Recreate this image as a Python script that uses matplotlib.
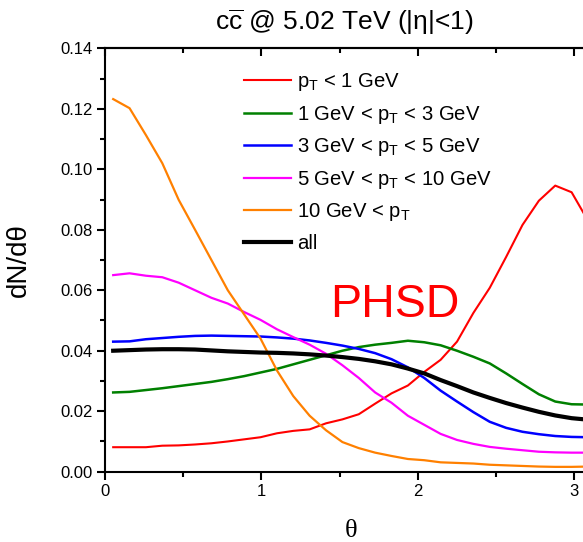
import numpy as np
import matplotlib.pyplot as plt
from matplotlib.ticker import MultipleLocator, FormatStrFormatter

plt.rcParams['font.family'] = ['Liberation Sans', 'DejaVu Sans']
plt.rcParams['mathtext.fontset'] = 'custom'
plt.rcParams['mathtext.rm'] = 'Liberation Sans'
plt.rcParams['mathtext.it'] = 'Liberation Sans:italic'
plt.rcParams['mathtext.bf'] = 'Liberation Sans:bold'

# 30 bins in theta, values read at bin centres
n_bins = 30
theta = (np.arange(n_bins) + 0.5) * np.pi / n_bins

pt_lt1 = [0.0081, 0.0081, 0.0081, 0.0086, 0.0087, 0.0090, 0.0094, 0.0100, 0.0107, 0.0114,
          0.0127, 0.0135, 0.0140, 0.0160, 0.0173, 0.0190, 0.0225, 0.0259, 0.0285, 0.0330,
          0.0370, 0.0430, 0.0525, 0.0608, 0.0710, 0.0816, 0.0896, 0.0946, 0.0924, 0.0830]
pt_1_3 = [0.0262, 0.0264, 0.0270, 0.0276, 0.0283, 0.0290, 0.0297, 0.0306, 0.0316, 0.0328,
          0.0340, 0.0355, 0.0370, 0.0385, 0.0400, 0.0412, 0.0420, 0.0426, 0.0433, 0.0428,
          0.0418, 0.0400, 0.0380, 0.0358, 0.0325, 0.0290, 0.0256, 0.0232, 0.0223, 0.0222]
pt_3_5 = [0.0430, 0.0431, 0.0438, 0.0442, 0.0446, 0.0449, 0.0450, 0.0449, 0.0448, 0.0447,
          0.0444, 0.0440, 0.0434, 0.0426, 0.0417, 0.0406, 0.0392, 0.0372, 0.0345, 0.0310,
          0.0268, 0.0232, 0.0197, 0.0165, 0.0145, 0.0132, 0.0124, 0.0118, 0.0115, 0.0114]
pt_5_10 = [0.0650, 0.0656, 0.0648, 0.0643, 0.0625, 0.0600, 0.0575, 0.0556, 0.0528, 0.0502,
           0.0471, 0.0445, 0.0420, 0.0390, 0.0352, 0.0310, 0.0262, 0.0228, 0.0185, 0.0155,
           0.0125, 0.0105, 0.0092, 0.0082, 0.0076, 0.0071, 0.0066, 0.0064, 0.0063, 0.0063]
pt_gt10 = [0.1232, 0.1202, 0.1113, 0.1020, 0.0899, 0.0800, 0.0700, 0.0600, 0.0520, 0.0440,
           0.0335, 0.0250, 0.0185, 0.0137, 0.0098, 0.0078, 0.0063, 0.0052, 0.0042, 0.0038,
           0.0031, 0.0029, 0.0027, 0.0023, 0.0021, 0.0019, 0.0017, 0.0016, 0.0016, 0.0017]
pt_all = [0.0400, 0.0402, 0.0404, 0.0405, 0.0405, 0.0404, 0.0401, 0.0398, 0.0396, 0.0394,
          0.0393, 0.0391, 0.0388, 0.0384, 0.0379, 0.0373, 0.0365, 0.0355, 0.0341, 0.0325,
          0.0303, 0.0283, 0.0262, 0.0244, 0.0227, 0.0212, 0.0198, 0.0186, 0.0177, 0.0172]

labels = [r'p$_\mathrm{T}$ < 1 GeV',
          r'1 GeV < p$_\mathrm{T}$ < 3 GeV',
          r'3 GeV < p$_\mathrm{T}$ < 5 GeV',
          r'5 GeV < p$_\mathrm{T}$ < 10 GeV',
          r'10 GeV < p$_\mathrm{T}$',
          'all']
series = [pt_lt1, pt_1_3, pt_3_5, pt_5_10, pt_gt10, pt_all]
colors = ['#ff0000', '#008000', '#0000ff', '#ff00ff', '#ff8000', '#000000']
widths = [1.5, 1.8, 1.8, 1.6, 1.6, 3.0]

fig = plt.figure(figsize=(5.83, 5.42), dpi=100)
ax = fig.add_axes([0.1801, 0.1297, 0.8425, 0.7812])

for y, lab, c, lw in zip(series, labels, colors, widths):
    ax.plot(theta, y, color=c, lw=lw, label=lab)

ax.set_xlim(0, np.pi)
ax.set_ylim(0, 0.14)
ax.xaxis.set_major_locator(MultipleLocator(1))
ax.xaxis.set_minor_locator(MultipleLocator(0.5))
ax.yaxis.set_major_locator(MultipleLocator(0.02))
ax.yaxis.set_minor_locator(MultipleLocator(0.01))
ax.yaxis.set_major_formatter(FormatStrFormatter('%.2f'))

for s in ax.spines.values():
    s.set_linewidth(1.5)
ax.tick_params(which='major', direction='out', length=6, width=1.5, labelsize=12, pad=3)
ax.tick_params(which='minor', direction='out', length=3.5, width=1.5)
ax.tick_params(axis='y', which='both', right=False)

top = ax.secondary_xaxis('top')
top.xaxis.set_major_locator(MultipleLocator(1))
top.xaxis.set_minor_locator(MultipleLocator(0.5))
top.tick_params(which='major', direction='in', length=6, width=1.5, labeltop=False)
top.tick_params(which='minor', direction='in', length=3.5, width=1.5)
top.spines['top'].set_linewidth(1.5)

ax.set_xlabel('θ', family=['Liberation Serif', 'DejaVu Serif'], fontsize=19, labelpad=15)
ax.set_ylabel('dN/dθ', fontsize=20, labelpad=20)

fig.text(344 / 583, 1 - 22 / 542, r'c$\overline{\mathrm{c}}$ @ 5.02 TeV (|η|<1)',
         ha='center', va='center', fontsize=19)

ax.text(330 / 583, 1 - 317 / 542, 'PHSD', transform=fig.transFigure,
        color='#ff0000', fontsize=33.5, ha='left', va='baseline')

ax.legend(loc='upper left', bbox_to_anchor=(236 / 583, 1 - 63 / 542),
          bbox_transform=fig.transFigure, frameon=False, fontsize=14.6,
          handlelength=2.3, handletextpad=0.3, labelspacing=0.52, borderaxespad=0)

fig.savefig('out.png', dpi=100)
